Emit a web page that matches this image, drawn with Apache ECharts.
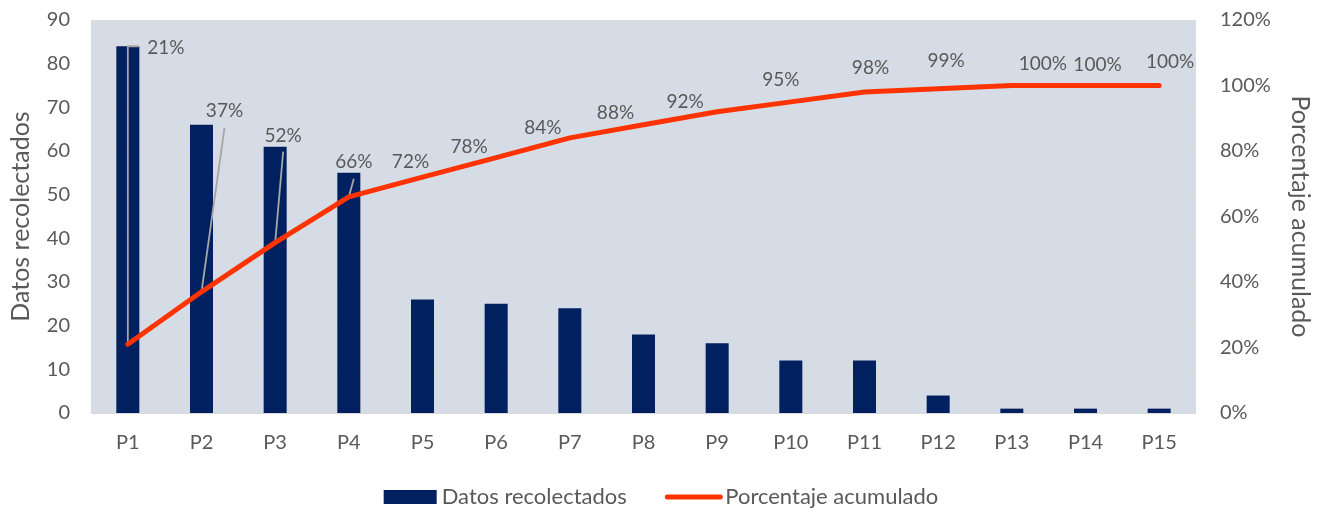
<!DOCTYPE html>
<html>
<head>
<meta charset="utf-8">
<title>Pareto</title>
<script src="https://cdn.jsdelivr.net/npm/echarts@6/dist/echarts.min.js"></script>
<style>
  html, body { margin: 0; padding: 0; background: #ffffff; }
  #chart { width: 1322px; height: 508px; }
</style>
</head>
<body>
<div id="chart"></div>
<script>
// Categories and values
const categories = ['P1','P2','P3','P4','P5','P6','P7','P8','P9','P10','P11','P12','P13','P14','P15'];
const datosRecolectados = [84, 66, 61, 55, 26, 25, 24, 18, 16, 12, 12, 4, 1, 1, 1];
// cumulative percentage (as labelled)
const porcentajeAcumulado = [21, 37, 52, 66, 72, 78, 84, 88, 92, 95, 98, 99, 100, 100, 100];
const leftTicks = { min: 0, max: 90, interval: 10 };
const rightTicks = { min: 0, max: 120, interval: 20 };

// label offsets (px) relative to each point of the line
const labelOffsets = [
  [38, -296], [23, -181], [8, -107], [5, -35], [-12, -15],
  [-27, -11], [-27, -10], [-28, -12], [-32, -10], [-10, -22],
  [6, -24], [8, -28], [31, -22], [12, -21], [11, -24]
];
// leader line shapes (px, relative to the point) for labels moved far away
const leaderPaths = [
  [[0, 0], [0, -298], [11, -298]],
  [[0, 0], [23, -164]],
  [[0, 0], [8, -91]],
  [[0, 0], [5, -18]]
];

const FONT = 'Lato, "Liberation Sans", sans-serif';
const GREY = '#595959';

const chart = echarts.init(document.getElementById('chart'), null, { renderer: 'canvas' });

chart.setOption({
  animation: false,
  textStyle: { fontFamily: FONT },
  grid: {
    left: 91, right: 126, top: 20, bottom: 95,
    show: true, backgroundColor: '#d6dce5', borderWidth: 0
  },
  legend: {
    top: 481, left: 'center',
    itemWidth: 53, itemHeight: 14, itemGap: 38,
    textStyle: { color: GREY, fontSize: 22, fontFamily: FONT },
    data: [
      { name: 'Datos recolectados', icon: 'rect' },
      { name: 'Porcentaje acumulado', itemStyle: { opacity: 0 },
        lineStyle: { width: 5, cap: 'round', color: '#ff3300' } }
    ]
  },
  xAxis: {
    type: 'category',
    data: categories,
    axisLine: { show: true, lineStyle: { color: '#d9d9d9', width: 1 } },
    axisTick: { show: false },
    axisLabel: { color: GREY, fontSize: 20, margin: 20, fontFamily: FONT }
  },
  yAxis: [
    {
      type: 'value',
      min: leftTicks.min, max: leftTicks.max, interval: leftTicks.interval,
      name: 'Datos recolectados',
      nameLocation: 'middle', nameRotate: 90, nameGap: 58,
      nameTextStyle: { color: GREY, fontSize: 25, fontFamily: FONT },
      axisLine: { show: false }, axisTick: { show: false },
      axisLabel: { color: GREY, fontSize: 20, margin: 21, fontFamily: FONT },
      splitLine: { show: true, lineStyle: { color: '#dadada', width: 1 } }
    },
    {
      type: 'value',
      min: rightTicks.min, max: rightTicks.max, interval: rightTicks.interval,
      name: 'Porcentaje acumulado',
      nameLocation: 'middle', nameRotate: -90, nameGap: 92,
      nameTextStyle: { color: GREY, fontSize: 25, fontFamily: FONT },
      axisLine: { show: false }, axisTick: { show: false },
      axisLabel: { color: GREY, fontSize: 20, margin: 24, fontFamily: FONT,
        formatter: v => v + '%' },
      splitLine: { show: false }
    }
  ],
  series: [
    {
      name: 'Datos recolectados',
      type: 'bar',
      yAxisIndex: 0,
      barWidth: 23,
      data: datosRecolectados,
      itemStyle: { color: '#002060' },
      z: 2
    },
    {
      // grey leader lines from the first points to their labels
      name: 'leaders',
      type: 'custom',
      yAxisIndex: 1,
      data: porcentajeAcumulado.map((v, i) => [i, v]),
      encode: { x: 0, y: 1 },
      silent: true,
      renderItem: (params, api) => {
        const path = leaderPaths[params.dataIndex];
        if (!path) return null;
        const p = api.coord([api.value(0), api.value(1)]);
        return {
          type: 'polyline',
          shape: { points: path.map(d => [p[0] + d[0], p[1] + d[1]]) },
          style: { stroke: '#a6a6a6', lineWidth: 1.8, fill: 'none' }
        };
      },
      z: 3
    },
    {
      name: 'Porcentaje acumulado',
      type: 'line',
      yAxisIndex: 1,
      data: porcentajeAcumulado,
      symbol: 'circle',
      symbolSize: 2,
      showSymbol: true,
      itemStyle: { color: '#ff3300' },
      lineStyle: { color: '#ff3300', width: 5, cap: 'round', join: 'round' },
      label: {
        show: true,
        position: 'inside',
        color: GREY,
        fontSize: 19,
        fontFamily: FONT,
        formatter: p => p.value + '%'
      },
      labelLayout: p => ({
        dx: labelOffsets[p.dataIndex][0],
        dy: labelOffsets[p.dataIndex][1]
      }),
      z: 4
    }
  ]
});
</script>
</body>
</html>
